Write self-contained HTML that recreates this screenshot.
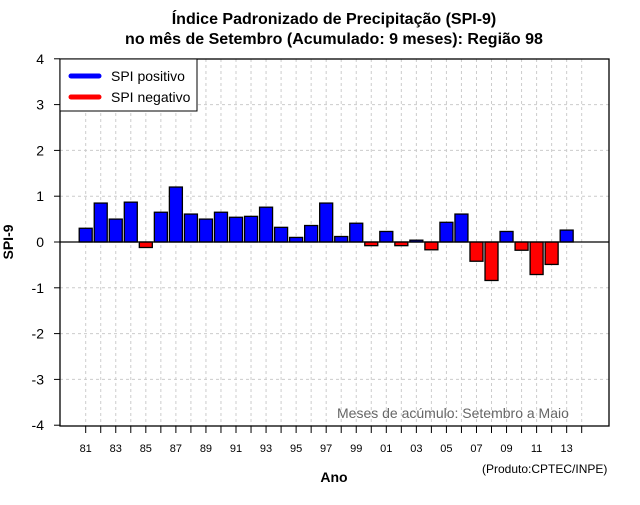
<!DOCTYPE html>
<html><head><meta charset="utf-8"><style>
body{margin:0;background:#fff}
svg text{font-family:"Liberation Sans",sans-serif}
</style></head><body>
<svg id="chart" width="640" height="500" xmlns="http://www.w3.org/2000/svg">
<rect width="640" height="500" fill="#fff"/>
<text x="334" y="24" text-anchor="middle" font-size="16" font-weight="bold">Índice Padronizado de Precipitação (SPI-9)</text>
<text x="334" y="44" text-anchor="middle" font-size="16" font-weight="bold">no mês de Setembro (Acumulado: 9 meses): Região 98</text>
<g id="grid"></g>
<g id="bars"></g>
<g id="axes"></g>
<text x="337" y="418" font-size="14" fill="#666">Meses de acúmulo: Setembro a Maio</text>
<text transform="translate(13,242) rotate(-90)" text-anchor="middle" font-size="14" font-weight="bold">SPI-9</text>
<text x="334" y="482" text-anchor="middle" font-size="14" font-weight="bold">Ano</text>
<text x="482" y="473" font-size="12">(Produto:CPTEC/INPE)</text>
<g>
<rect x="60" y="59" width="137" height="52" fill="#fff" stroke="#000"/>
<line x1="71" y1="76" x2="99" y2="76" stroke="#0000ff" stroke-width="5" stroke-linecap="round"/>
<text x="111" y="81" font-size="14">SPI positivo</text>
<line x1="71" y1="97" x2="99" y2="97" stroke="#ff0000" stroke-width="5" stroke-linecap="round"/>
<text x="111" y="102" font-size="14">SPI negativo</text>
</g>
</svg>
<script>
const years=[1981,1982,1983,1984,1985,1986,1987,1988,1989,1990,1991,1992,1993,1994,1995,1996,1997,1998,1999,2000,2001,2002,2003,2004,2005,2006,2007,2008,2009,2010,2011,2012,2013];
const spiValues=[0.30,0.85,0.50,0.87,-0.12,0.65,1.20,0.61,0.50,0.65,0.54,0.56,0.76,0.32,0.10,0.36,0.85,0.12,0.41,-0.08,0.23,-0.08,0.04,-0.17,0.43,0.61,-0.42,-0.84,0.23,-0.18,-0.71,-0.49,0.26];
const yTicks=[-4,-3,-2,-1,0,1,2,3,4];
const xTickYears=[1981,1982,1983,1984,1985,1986,1987,1988,1989,1990,1991,1992,1993,1994,1995,1996,1997,1998,1999,2000,2001,2002,2003,2004,2005,2006,2007,2008,2009,2010,2011,2012,2013,2014];
const L=60,R=609,T=59,B=426;
const xs=y=>85.7+(y-1981)*15.03;
const ys=v=>242-v*45.8;
const NS="http://www.w3.org/2000/svg";
function mk(t,a,p){const e=document.createElementNS(NS,t);for(const k in a)e.setAttribute(k,a[k]);p.appendChild(e);return e;}
const grid=document.getElementById('grid'),bars=document.getElementById('bars'),axes=document.getElementById('axes');
xTickYears.forEach(y=>{const g=mk('line',{x1:xs(y),x2:xs(y),y1:T,y2:B,stroke:'#ccc','stroke-dasharray':'3,3'},grid);

});
yTicks.forEach(v=>{if(v===0||v===4||v===-4)return;const g=mk('line',{x1:L,x2:R,y1:ys(v),y2:ys(v),stroke:'#ccc','stroke-dasharray':'3,3'},grid);

});
years.forEach((y,i)=>{const v=spiValues[i];const y0=ys(Math.max(v,0)),h=Math.abs(ys(v)-ys(0));
const r=mk('rect',{x:xs(y)-6.5,y:y0,width:13,height:h,fill:v>=0?'#0000ff':'#ff0000',stroke:'#000','stroke-width':1.3},bars);

});
const z=mk('line',{x1:L,x2:R,y1:ys(0),y2:ys(0),stroke:'#000','stroke-width':1.3},axes);


const f=mk('rect',{x:L,y:T,width:R-L,height:B-T,fill:'none',stroke:'#000','stroke-width':1.3},axes);


yTicks.forEach(v=>{mk('line',{x1:L-6,x2:L,y1:ys(v),y2:ys(v),stroke:'#000'},axes);
const t=mk('text',{x:44,y:ys(v)+5,'text-anchor':'end','font-size':14},axes);t.textContent=v;

});
xTickYears.forEach(y=>{mk('line',{x1:xs(y),x2:xs(y),y1:B,y2:B+7,stroke:'#000'},axes);
if((y-1981)%2===0&&y<=2013){const t=mk('text',{x:xs(y),y:452,'text-anchor':'middle','font-size':11},axes);t.textContent=String(y%100).padStart(2,'0');

}});
</script>
</body></html>
